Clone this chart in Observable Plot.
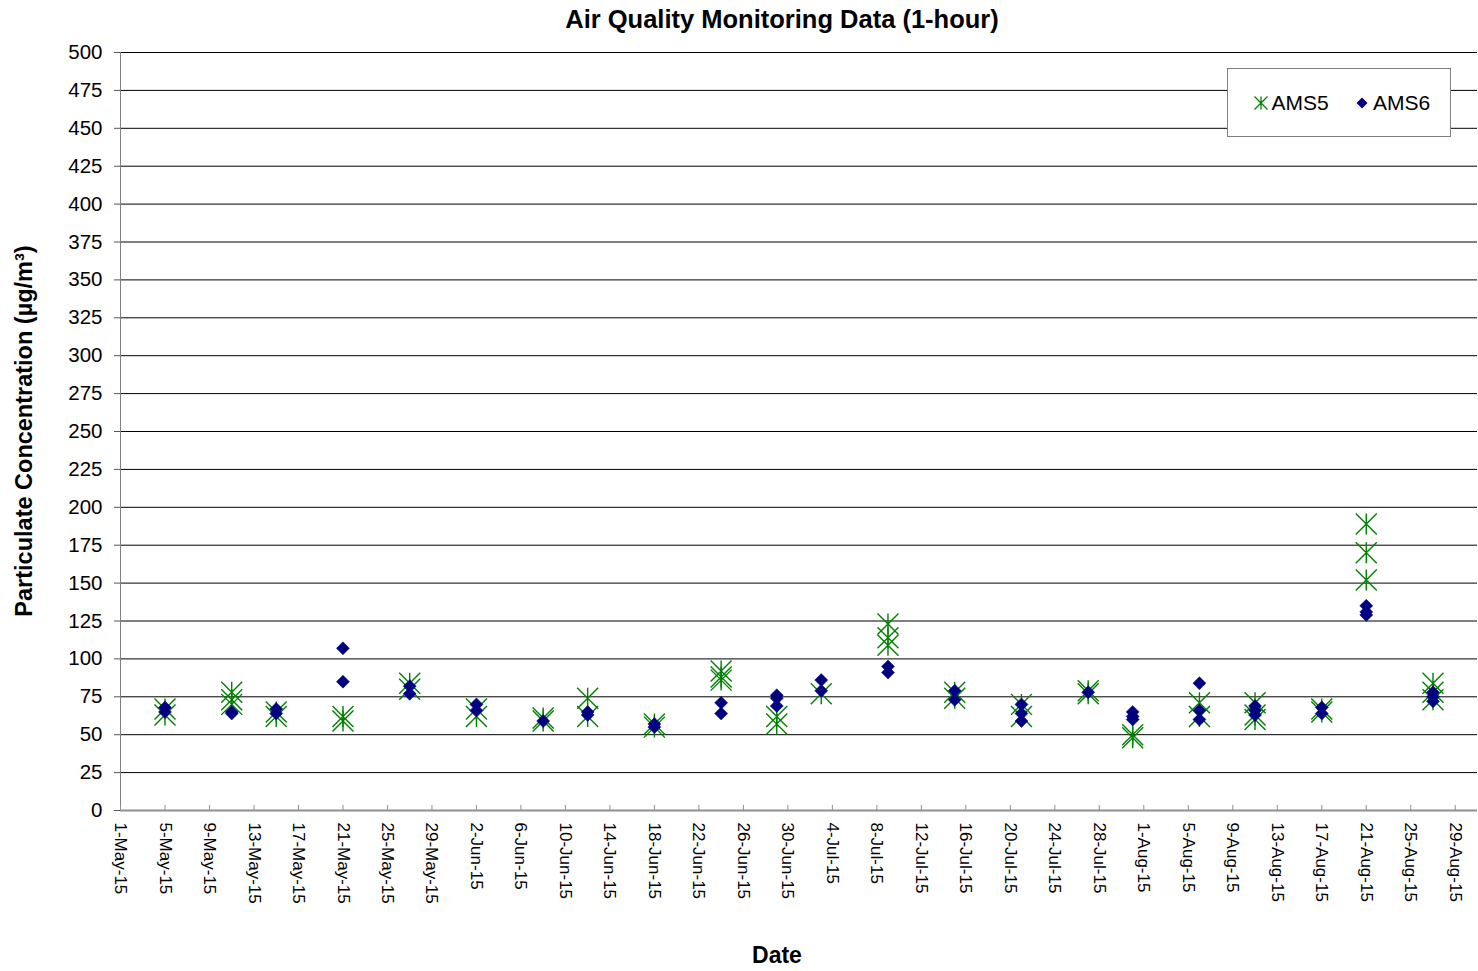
<!DOCTYPE html>
<html>
<head>
<meta charset="utf-8">
<script src="https://cdn.jsdelivr.net/npm/d3@7"></script>
<script src="https://cdn.jsdelivr.net/npm/@observablehq/plot@0.6"></script>
<style>
  html, body { margin: 0; padding: 0; background: #fff; }
  #wrap { position: relative; width: 1478px; height: 971px; overflow: hidden; font-family: "Liberation Sans", Arial, sans-serif; }
  #overlay { position: absolute; left: 0; top: 0; pointer-events: none; }
</style>
</head>
<body>
<div id="wrap"></div>
<script>
// ---- data ----
const ams5Dates = [
  "2015-05-05","2015-05-05",
  "2015-05-11","2015-05-11","2015-05-11",
  "2015-05-15","2015-05-15",
  "2015-05-21","2015-05-21",
  "2015-05-27","2015-05-27",
  "2015-06-02","2015-06-02",
  "2015-06-08","2015-06-08",
  "2015-06-12","2015-06-12",
  "2015-06-18","2015-06-18",
  "2015-06-24","2015-06-24","2015-06-24",
  "2015-06-29","2015-06-29",
  "2015-07-03",
  "2015-07-09","2015-07-09","2015-07-09",
  "2015-07-15","2015-07-15",
  "2015-07-21","2015-07-21",
  "2015-07-27","2015-07-27",
  "2015-07-31","2015-07-31",
  "2015-08-06","2015-08-06",
  "2015-08-11","2015-08-11","2015-08-11",
  "2015-08-17","2015-08-17",
  "2015-08-21","2015-08-21","2015-08-21",
  "2015-08-27","2015-08-27","2015-08-27"
];
const ams5Values = [
  67, 63,
  78, 73, 70,
  65, 62,
  62, 59,
  84, 80,
  67, 62,
  61, 59,
  74, 62,
  57, 55,
  92, 88, 86,
  62, 57,
  77,
  123, 114, 109,
  78, 74,
  70, 62,
  79, 77,
  50, 48,
  71, 62,
  71, 63, 60,
  67, 65,
  189, 170, 152,
  84, 78, 73
];
const ams6Dates = [
  "2015-05-05","2015-05-05",
  "2015-05-11","2015-05-11",
  "2015-05-15","2015-05-15",
  "2015-05-21","2015-05-21",
  "2015-05-27","2015-05-27",
  "2015-06-02","2015-06-02",
  "2015-06-08",
  "2015-06-12","2015-06-12",
  "2015-06-18","2015-06-18",
  "2015-06-24","2015-06-24",
  "2015-06-29","2015-06-29","2015-06-29",
  "2015-07-03","2015-07-03",
  "2015-07-09","2015-07-09",
  "2015-07-15","2015-07-15",
  "2015-07-21","2015-07-21","2015-07-21",
  "2015-07-27",
  "2015-07-31","2015-07-31","2015-07-31",
  "2015-08-06","2015-08-06","2015-08-06",
  "2015-08-11","2015-08-11","2015-08-11",
  "2015-08-17","2015-08-17",
  "2015-08-21","2015-08-21","2015-08-21",
  "2015-08-27","2015-08-27","2015-08-27"
];
const ams6Values = [
  68, 65,
  65, 64,
  67, 64,
  107, 85,
  82, 77,
  70, 66,
  59,
  65, 63,
  57, 55,
  71, 64,
  76, 74, 69,
  86, 79,
  95, 91,
  79, 73,
  70, 64, 59,
  78,
  65, 62, 60,
  84, 66, 60,
  69, 66, 63,
  68, 64,
  135, 131, 129,
  78, 75, 72
];
const seriesNames = ["AMS5", "AMS6"];
const xTickDates = [
  "2015-05-01","2015-05-05","2015-05-09","2015-05-13","2015-05-17","2015-05-21","2015-05-25","2015-05-29",
  "2015-06-02","2015-06-06","2015-06-10","2015-06-14","2015-06-18","2015-06-22","2015-06-26","2015-06-30",
  "2015-07-04","2015-07-08","2015-07-12","2015-07-16","2015-07-20","2015-07-24","2015-07-28",
  "2015-08-01","2015-08-05","2015-08-09","2015-08-13","2015-08-17","2015-08-21","2015-08-25","2015-08-29"
];
const yTicks = [0,25,50,75,100,125,150,175,200,225,250,275,300,325,350,375,400,425,450,475,500];
const xDomain = ["2015-05-01", "2015-08-31"];

const titleText = "Air Quality Monitoring Data (1-hour)";
const yLabelText = "Particulate Concentration (µg/m³)";
const xLabelText = "Date";

// ---- build ----
const parse = d3.utcParse("%Y-%m-%d");
const fmt = d3.utcFormat("%-d-%b-%y");
const ams5 = ams5Dates.map((d, i) => ({date: parse(d), value: ams5Values[i]}));
const ams6 = ams6Dates.map((d, i) => ({date: parse(d), value: ams6Values[i]}));
const xTicks = xTickDates.map(parse);

const GREEN = "#008000";
const NAVY = "#000080";

const starSymbol = {
  draw(ctx, size) {
    const r = Math.sqrt(size / Math.PI);
    ctx.moveTo(-r, -r); ctx.lineTo(r, r);
    ctx.moveTo(-r, r); ctx.lineTo(r, -r);
    ctx.moveTo(0, -r); ctx.lineTo(0, r);
  }
};
const diamondSymbol = {
  draw(ctx, size) {
    const r = Math.sqrt(size / Math.PI);
    ctx.moveTo(0, -r); ctx.lineTo(r, 0); ctx.lineTo(0, r); ctx.lineTo(-r, 0); ctx.closePath();
  }
};

const chart = Plot.plot({
  width: 1478,
  height: 971,
  marginLeft: 120,
  marginRight: 1,
  marginTop: 52,
  marginBottom: 161,
  style: {fontFamily: "'Liberation Sans', Arial, sans-serif", fontSize: "20px", color: "#000", background: "#fff"},
  x: {type: "utc", domain: xDomain.map(parse)},
  y: {domain: [0, 500]},
  marks: [
    Plot.gridY(yTicks, {stroke: "#000", strokeOpacity: 1, strokeWidth: 1}),
    Plot.axisY(yTicks, {tickSize: 6, tickPadding: 12, stroke: "#555", fontSize: 20.5, label: null, tickFormat: d => String(d)}),
    Plot.frame({anchor: "left", stroke: "#808080"}),
    Plot.axisX(xTicks, {tickSize: -5, tickFormat: () => "", stroke: "#909090", label: null}),
    Plot.axisX(xTicks, {tickSize: 0, tickPadding: 12, tickRotate: 90, tickFormat: fmt, fontSize: 17, label: null}),
    Plot.ruleY([0], {stroke: "#909090", strokeWidth: 2}),
    Plot.dot(ams5, {x: "date", y: "value", symbol: starSymbol, r: 10.5, stroke: GREEN, strokeWidth: 1.4, fill: "none"}),
    Plot.dot(ams6, {x: "date", y: "value", symbol: diamondSymbol, r: 6.5, fill: NAVY, stroke: NAVY, strokeWidth: 0.5})
  ]
});

const wrap = document.getElementById("wrap");
wrap.appendChild(chart);

// ---- overlay: title, axis labels, legend ----
const ns = "http://www.w3.org/2000/svg";
const ov = d3.create("svg").attr("id", "overlay").attr("width", 1478).attr("height", 971)
  .attr("xmlns", ns).style("font-family", "'Liberation Sans', Arial, sans-serif");

ov.append("text").attr("x", 782).attr("y", 28).attr("text-anchor", "middle")
  .attr("font-size", 25.5).attr("font-weight", "bold").text(titleText);
ov.append("text").attr("transform", "translate(32,431) rotate(-90)").attr("text-anchor", "middle")
  .attr("font-size", 23.5).attr("font-weight", "bold").text(yLabelText);
ov.append("text").attr("x", 777).attr("y", 963).attr("text-anchor", "middle")
  .attr("font-size", 23).attr("font-weight", "bold").text(xLabelText);

const lg = ov.append("g").attr("transform", "translate(1227.5,68.5)");
lg.append("rect").attr("width", 223).attr("height", 68).attr("fill", "#fff").attr("stroke", "#808080").attr("stroke-width", 1);
const s = 6.5;
lg.append("path").attr("transform", "translate(33.5,34.5)")
  .attr("d", `M${-s},${-s}L${s},${s}M${-s},${s}L${s},${-s}M0,${-s}L0,${s}`)
  .attr("stroke", GREEN).attr("stroke-width", 1.3).attr("fill", "none");
lg.append("text").attr("x", 44).attr("y", 41.5).attr("font-size", 21).text(seriesNames[0]);
const dd = 5.5;
lg.append("path").attr("transform", "translate(134.5,34.5)")
  .attr("d", `M0,${-dd}L${dd},0L0,${dd}L${-dd},0Z`).attr("fill", NAVY);
lg.append("text").attr("x", 145.5).attr("y", 41.5).attr("font-size", 21).text(seriesNames[1]);

wrap.appendChild(ov.node());
</script>
</body>
</html>
